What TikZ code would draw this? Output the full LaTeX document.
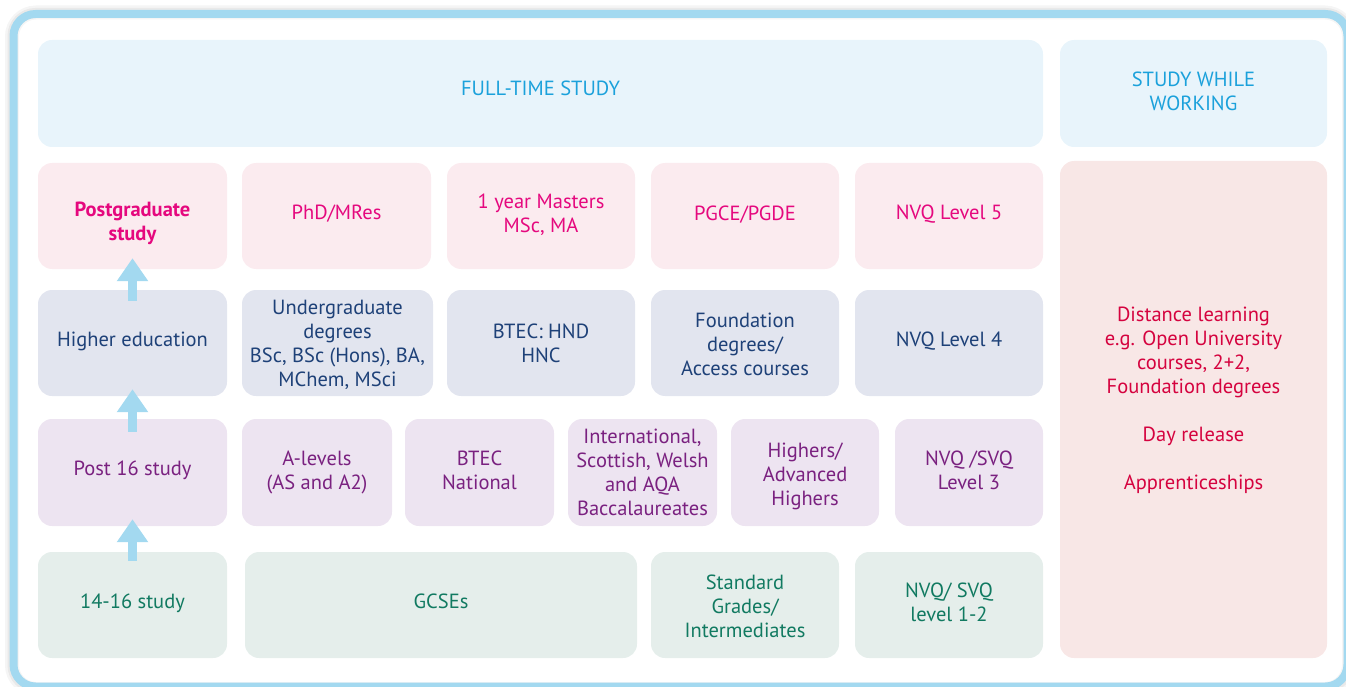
\documentclass[tikz,border=0pt]{standalone}
\usepackage{fontspec}
\setmainfont{PT Sans}
\usetikzlibrary{arrows.meta,calc}
\definecolor{framec}{HTML}{A3D9F0}
\definecolor{topfill}{HTML}{E8F4FB}
\definecolor{toptext}{HTML}{1BA1DB}
\definecolor{pgfill}{HTML}{FBEBEF}
\definecolor{pgtext}{HTML}{E5087E}
\definecolor{hefill}{HTML}{E2E5EF}
\definecolor{hetext}{HTML}{1E4178}
\definecolor{psfill}{HTML}{EDE4F1}
\definecolor{pstext}{HTML}{7A2180}
\definecolor{scfill}{HTML}{E5EEEB}
\definecolor{sctext}{HTML}{117A61}
\definecolor{wkfill}{HTML}{F8E7E6}
\definecolor{wktext}{HTML}{D5033F}
% #1 row style, #2-#5 corners, #6 name, #7 text, #8 text shift (up)
\newcommand\cellbox[8]{\node[cell,#1,minimum width={#4-#2},minimum height={#5-#3},
  label={[celltext,#1 text,yshift=#8pt]center:{#7}}] (#6) at ({(#2+#4)/2},{(#3+#5)/2}) {};}
\begin{document}
\begin{tikzpicture}[x=1pt,y=-1pt,
  cell/.style={rounded corners=14pt, inner sep=0pt},
  celltext/.style={align=center, font=\fontsize{20.5}{24}\selectfont},
  toprow/.style={fill=topfill}, toprow text/.style={text=toptext},
  pgrow/.style={fill=pgfill}, pgrow text/.style={text=pgtext},
  herow/.style={fill=hefill}, herow text/.style={text=hetext},
  psrow/.style={fill=psfill}, psrow text/.style={text=pstext},
  scrow/.style={fill=scfill}, scrow text/.style={text=sctext},
  wkbox/.style={fill=wkfill}, wkbox text/.style={text=wktext},
  uparrow/.style={draw=framec, line width=9pt, -{Triangle[width=30pt,length=23pt]}},
  frame/.style={draw=framec, line width=8pt, rounded corners=22pt}
]
\useasboundingbox (0,0) rectangle (1346,687);
\clip (0,0) rectangle (1346,687);
% shadow and frame
\draw[black, opacity=0.04, line width=14pt, rounded corners=24pt] (12,12.5) rectangle (1349,689);
\draw[black, opacity=0.05, line width=10pt, rounded corners=23pt] (12.5,13) rectangle (1348.5,688);
\draw[frame] (13.5,14) rectangle (1347.5,686.5);
% header
\cellbox{toprow}{38}{40}{1043}{147}{ft}{FULL-TIME STUDY}{5}
\cellbox{toprow}{1060}{40}{1327}{147}{sww}{STUDY WHILE\\WORKING}{2.5}
\cellbox{wkbox}{1060}{161}{1327}{658}{dist}{Distance learning\\e.g. Open University\\courses, 2+2,\\Foundation degrees\\[24pt]Day release\\[24pt]Apprenticeships}{9}
% row 1
\cellbox{pgrow}{38}{163}{227}{269}{pg}{\bfseries Postgraduate\\\bfseries study}{-7}
\cellbox{pgrow}{242}{163}{431}{269}{phd}{PhD/MRes}{2}
\cellbox{pgrow}{447}{163}{635}{269}{ms}{1 year Masters\\MSc, MA}{1}
\cellbox{pgrow}{651}{163}{839}{269}{pgce}{PGCE/PGDE}{1}
\cellbox{pgrow}{855}{163}{1043}{269}{nvqv}{NVQ Level 5}{2}
% row 2
\cellbox{herow}{38}{290}{227}{396}{he}{Higher education}{2}
\cellbox{herow}{242}{290}{433}{396}{ug}{Undergraduate\\degrees\\BSc, BSc (Hons), BA,\\MChem, MSci}{-2}
\cellbox{herow}{447}{290}{635}{396}{hnd}{BTEC: HND\\HNC}{0}
\cellbox{herow}{651}{290}{839}{396}{fd}{Foundation\\degrees/\\Access courses}{-1}
\cellbox{herow}{855}{290}{1043}{396}{nvqiv}{NVQ Level 4}{2}
% row 3
\cellbox{psrow}{38}{419}{227}{526}{ps}{Post 16 study}{2}
\cellbox{psrow}{242}{419}{392}{526}{al}{A-levels\\(AS and A2)}{0}
\cellbox{psrow}{405}{419}{554}{526}{btec}{BTEC\\National}{2}
\cellbox{psrow}{568}{419}{717}{526}{intl}{International,\\Scottish, Welsh\\and AQA\\Baccalaureates}{0}
\cellbox{psrow}{731}{419}{879}{526}{hi}{Highers/\\Advanced\\Highers}{-4}
\cellbox{psrow}{895}{419}{1043}{526}{nvqiii}{NVQ /SVQ\\Level 3}{2}
% row 4
\cellbox{scrow}{38}{552}{227}{658}{sc}{14-16 study}{2}
\cellbox{scrow}{245}{552}{637}{658}{gcse}{GCSEs}{4}
\cellbox{scrow}{651}{552}{839}{658}{sg}{Standard\\Grades/\\Intermediates}{-1}
\cellbox{scrow}{855}{552}{1043}{658}{nvqi}{NVQ/ SVQ\\level 1-2}{3}
% arrows
\draw[uparrow] ($(sc.north)+(0,9)$) -- ($(ps.south)+(0,-7)$);
\draw[uparrow] ($(ps.north)+(0,13)$) -- ($(he.south)+(0,-7)$);
\draw[uparrow] ($(he.north)+(0,11)$) -- ($(pg.south)+(0,-11)$);
\end{tikzpicture}
\end{document}
